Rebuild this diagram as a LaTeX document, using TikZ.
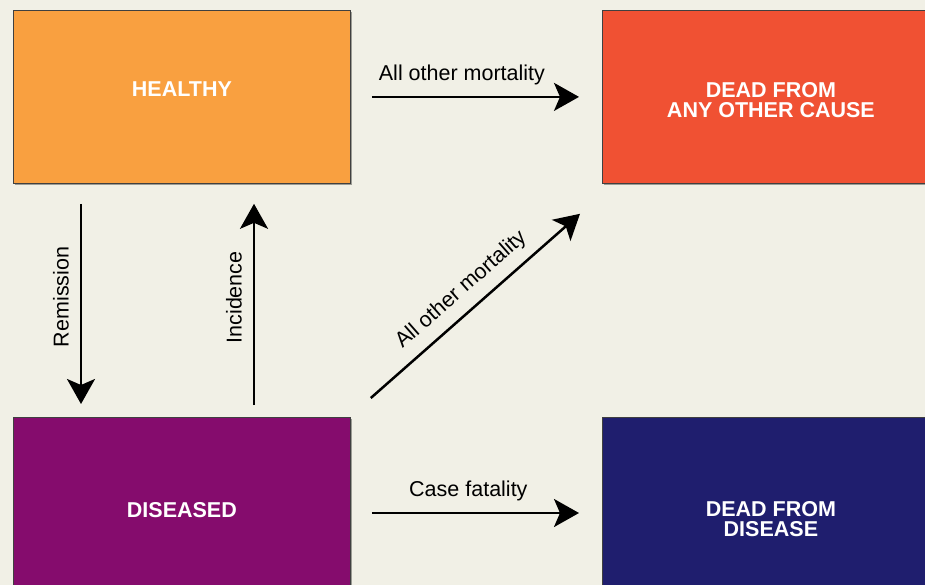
\documentclass[tikz,border=0pt]{standalone}
\usepackage{fontspec}
\setmainfont{Liberation Sans}
\usetikzlibrary{arrows.meta, calc, shadows}

\definecolor{bgcream}{HTML}{F1F0E6}
\definecolor{healthyorange}{HTML}{F9A040}
\definecolor{deadred}{HTML}{F05133}
\definecolor{diseasedpurple}{HTML}{850C6D}
\definecolor{deadnavy}{HTML}{1F1E6E}

\begin{document}
\begin{tikzpicture}[x=1pt, y=-1pt, >={Stealth[length=25pt, width=28pt, inset=6pt]},
  state/.style={draw=black!75, line width=0.8pt, minimum width=337pt, minimum height=173pt,
    inner sep=0pt, anchor=north west,
    drop shadow={shadow xshift=1.2pt, shadow yshift=-1.2pt, opacity=0.35, fill=black}},
  statetext/.style={text=white, font=\fontsize{21.5}{20}\selectfont\bfseries, align=center,
    anchor=north, inner sep=0pt},
  flow/.style={->, line width=2.5pt},
  rate/.style={font=\fontsize{21.5}{21.5}\selectfont, inner sep=0pt}]
  \clip (0,0) rectangle (925,585);
  \fill[bgcream] (0,0) rectangle (925,585);

  \node[state, fill=healthyorange] (healthy) at (13,10) {};
  \node[state, fill=deadred] (deadother) at (602,10) {};
  \node[state, fill=diseasedpurple, minimum height=186pt] (diseased) at (13,417) {};
  \node[state, fill=deadnavy, minimum height=186pt] (deaddisease) at (602,417) {};

  \node[statetext] (healthytext) at ($(healthy.north)+(0,72)$) {HEALTHY};
  \node[statetext] (deadothertext) at ($(deadother.north)+(0,72)$) {DEAD FROM\\ANY OTHER CAUSE};
  \node[statetext] (diseasedtext) at ($(diseased.north)+(0,85)$) {DISEASED};
  \node[statetext] (deaddiseasetext) at ($(deaddisease.north)+(0,84)$) {DEAD FROM\\DISEASE};

  \coordinate (remtop) at ($(healthy.south west)+(68,20)$);
  \coordinate (rembot) at ($(diseased.north west)+(68,-13)$);
  \coordinate (inctop) at ($(healthy.south west)+(241,20)$);
  \coordinate (incbot) at ($(diseased.north west)+(241,-12)$);
  \coordinate (otherstart) at ($(healthy.east)+(21,0)$);
  \coordinate (otherend) at ($(deadother.west)+(-23,0)$);
  \coordinate (diagstart) at ($(diseased.north east)+(20,-19)$);
  \coordinate (diagend) at ($(deadother.south west)+(-22,30)$);
  \coordinate (fatalstart) at ($(diseased.north east)+(21,96)$);
  \coordinate (fatalend) at ($(deaddisease.north west)+(-23,96)$);

  \draw[flow] (remtop) -- (rembot)
    node[rate, midway, xshift=-11pt, yshift=7pt, rotate=90, anchor=south] (remission) {Remission};
  \draw[flow] (incbot) -- (inctop)
    node[rate, midway, xshift=-11pt, yshift=7pt, rotate=90, anchor=south] (incidence) {Incidence};
  \draw[flow] (otherstart) -- (otherend)
    node[rate, pos=0.435, above=11pt] (othertop) {All other mortality};
  \draw[flow] (diagstart) -- (diagend)
    node[rate, midway, sloped, above=10pt] (otherdiag) {All other mortality};
  \draw[flow] (fatalstart) -- (fatalend)
    node[rate, pos=0.466, above=11pt] (fatality) {Case fatality};
\end{tikzpicture}
\end{document}
